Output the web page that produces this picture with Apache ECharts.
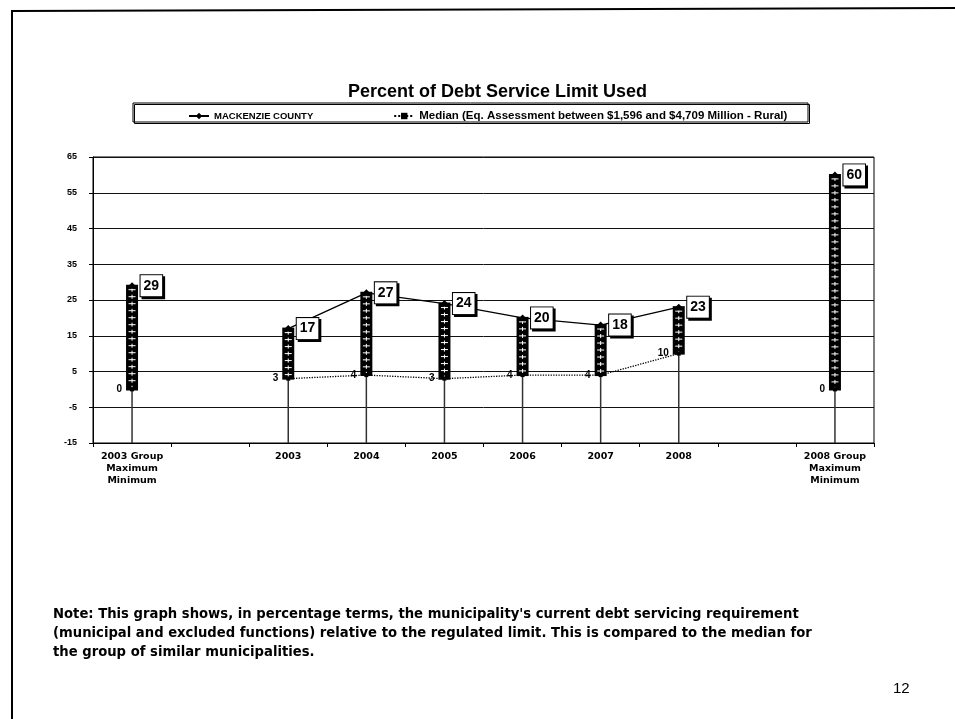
<!DOCTYPE html>
<html>
<head>
<meta charset="utf-8">
<script src="https://cdn.jsdelivr.net/npm/echarts@6/dist/echarts.min.js"></script>
<style>
  html, body { margin: 0; padding: 0; background: #fff; }
  #chart { width: 955px; height: 719px; }
</style>
</head>
<body>
<div id="chart"></div>
<script>
// Categories: group extremes at each end, blank slots keep the lines apart
const categories = ['2003 Group\nMaximum\nMinimum', '', '2003', '2004', '2005', '2006', '2007', '2008', '', '2008 Group\nMaximum\nMinimum'];
// Percent of debt service limit used
const countyValues = [29, null, 17, 27, 24, 20, 18, 23, null, 60];
const medianValues = [0, null, 3, 4, 3, 4, 4, 10, null, 0];
const yMin = -15, yMax = 65, yStep = 10;

const countyName = 'MACKENZIE COUNTY';
const medianName = 'Median (Eq. Assessment between $1,596 and $4,709 Million - Rural)';
const titleText = 'Percent of Debt Service Limit Used';
const noteLines = [
  "Note: This graph shows, in percentage terms, the municipality's current debt servicing requirement",
  '(municipal and excluded functions) relative to the regulated limit. This is compared to the median for',
  'the group of similar municipalities.'
];
const pageNumber = '12';

const FONT = 'Arial, "Liberation Sans", sans-serif';
const WIDE = '"DejaVu Sans", Arial, sans-serif';

// High-low bars between the two series at each category
const barData = [];
categories.forEach((c, i) => {
  const a = countyValues[i], b = medianValues[i];
  if (a != null && b != null) barData.push([i, Math.max(a, b), Math.min(a, b)]);
});

function renderBar(params, api) {
  const idx = api.value(0);
  const top = api.coord([idx, api.value(1)]);
  const bot = api.coord([idx, api.value(2)]);
  const base = api.coord([idx, yMin]);
  const w = 12;
  const children = [
    { type: 'line', shape: { x1: top[0], y1: top[1], x2: top[0], y2: base[1] },
      style: { stroke: '#333', lineWidth: 1.5 } },
    { type: 'rect', shape: { x: top[0] - w / 2, y: top[1] - 1, width: w, height: bot[1] - top[1] + 2 },
      style: { fill: '#000' } },
    { type: 'line', shape: { x1: top[0], y1: top[1] + 2, x2: top[0], y2: bot[1] - 2 },
      style: { stroke: '#fff', lineWidth: 1, lineDash: [4, 3] } }
  ];
  for (let y = top[1] + 4; y < bot[1] - 2; y += 7) {
    children.push({ type: 'line', shape: { x1: top[0] - 3.5, y1: y, x2: top[0] + 3.5, y2: y },
      style: { stroke: '#fff', lineWidth: 1 } });
  }
  return { type: 'group', children };
}

const chart = echarts.init(document.getElementById('chart'), null, { renderer: 'canvas' });

chart.setOption({
  animation: false,
  backgroundColor: '#fff',
  title: {
    text: titleText,
    left: 343, top: 78,
    textStyle: { fontFamily: FONT, fontSize: 18, fontWeight: 'bold', color: '#000' }
  },
  legend: {
    data: [countyName, medianName],
    left: 183, top: 105,
    itemWidth: 20, itemHeight: 8, itemGap: 80,
    formatter: name => name === countyName ? '{a|' + name + '}' : '{b|' + name + '}',
    textStyle: {
      color: '#000',
      rich: {
        a: { fontFamily: FONT, fontSize: 9.5, fontWeight: 'bold', color: '#000' },
        b: { fontFamily: FONT, fontSize: 11.5, fontWeight: 'bold', color: '#000' }
      }
    }
  },
  grid: {
    left: 93, right: 81, top: 157, bottom: 276,
    show: true, borderColor: '#000', borderWidth: 1
  },
  xAxis: {
    type: 'category',
    data: categories,
    boundaryGap: true,
    axisLine: { show: true, onZero: false, lineStyle: { color: '#000', width: 1 } },
    axisTick: { show: true, length: 4, lineStyle: { color: '#000' } },
    axisLabel: {
      interval: 0, margin: 8, color: '#000',
      fontFamily: WIDE, fontSize: 9.5, fontWeight: 'bold', lineHeight: 12
    },
    splitLine: { show: false }
  },
  yAxis: {
    type: 'value',
    min: yMin, max: yMax, interval: yStep,
    axisLine: { show: true, lineStyle: { color: '#000', width: 1 } },
    axisTick: { show: true, length: 4, lineStyle: { color: '#000' } },
    axisLabel: { margin: 16, color: '#000', fontFamily: FONT, fontSize: 9, fontWeight: 'bold' },
    splitLine: { show: true, lineStyle: { color: '#111', width: 1 } }
  },
  series: [
    {
      type: 'custom',
      name: 'range',
      renderItem: renderBar,
      data: barData,
      encode: { x: 0, y: [1, 2] },
      z: 1,
      silent: true
    },
    {
      type: 'line',
      name: countyName,
      data: countyValues,
      connectNulls: false,
      symbol: 'diamond', symbolSize: 7,
      itemStyle: { color: '#000' },
      lineStyle: { color: '#000', width: 1.3 },
      z: 3,
      label: {
        show: true, position: 'right', distance: 5,
        fontFamily: FONT, fontSize: 14, fontWeight: 'bold', color: '#000',
        backgroundColor: '#fff', borderColor: '#000', borderWidth: 1,
        padding: [4, 3, 3, 3],
        shadowColor: '#000', shadowOffsetX: 2, shadowOffsetY: 2, shadowBlur: 0
      }
    },
    {
      type: 'line',
      name: medianName,
      data: medianValues,
      connectNulls: false,
      symbol: 'rect', symbolSize: 4,
      itemStyle: { color: '#000' },
      lineStyle: { color: '#000', width: 1.3, type: 'dotted' },
      z: 3,
      label: {
        show: true, position: 'left', distance: 8,
        fontFamily: FONT, fontSize: 10, fontWeight: 'bold', color: '#000'
      }
    }
  ],
  graphic: [
    // page frame
    { type: 'polyline', shape: { points: [[12, 719], [12, 11], [955, 8]] },
      style: { stroke: '#000', lineWidth: 2, fill: null }, z: 10 },
    // legend frame
    { type: 'rect', shape: { x: 133, y: 103, width: 675, height: 19 },
      style: { fill: 'rgba(0,0,0,0)', stroke: '#000', lineWidth: 1,
               shadowColor: '#000', shadowOffsetX: 1.5, shadowOffsetY: 1.5, shadowBlur: 0 }, z: -1 },
    // note under the chart
    ...noteLines.map((t, i) => ({
      type: 'text', left: 53, top: 608 + i * 19,
      style: { text: t, font: 'bold 13.2px ' + WIDE, fill: '#000' }
    })),
    { type: 'text', left: 893, top: 681,
      style: { text: pageNumber, font: '15px ' + FONT, fill: '#000' } }
  ]
});
</script>
</body>
</html>
